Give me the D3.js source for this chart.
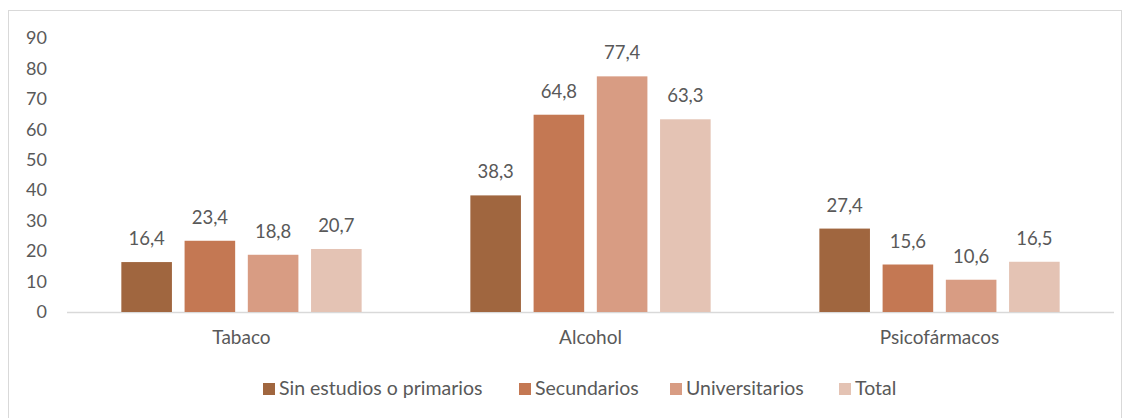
<!DOCTYPE html>
<html><head><meta charset="utf-8">
<script src="https://cdn.jsdelivr.net/npm/d3@7"></script>
<style>body{margin:0;background:#fff}svg{display:block}text{font-family:Lato,"Open Sans",sans-serif;fill:#595959}</style>
</head><body>
<svg id="c" width="1131" height="418"></svg>
<script>
const categories = ["Tabaco", "Alcohol", "Psicofármacos"];
const seriesNames = ["Sin estudios o primarios", "Secundarios", "Universitarios", "Total"];
const sinEstudios = [16.4, 38.3, 27.4];
const secundarios = [23.4, 64.8, 15.6];
const universitarios = [18.8, 77.4, 10.6];
const total = [20.7, 63.3, 16.5];
const colors = ["#A0663F", "#C47853", "#D89C83", "#E4C3B4"];
const yTicks = [0,10,20,30,40,50,60,70,80,90];

const series = [sinEstudios, secundarios, universitarios, total];
const svg = d3.select("#c");
svg.append("rect").attr("x",8.5).attr("y",10.5).attr("width",1113).attr("height",420)
  .attr("fill","#fff").attr("stroke","#D9D9D9");

const x0 = d3.scaleBand().domain(categories).range([67,1114]).paddingInner(0.3115).paddingOuter(0.1557);
const x1 = d3.scaleBand().domain(d3.range(4)).range([0, x0.bandwidth()]).paddingInner(0.2).paddingOuter(0);
const y = d3.scaleLinear().domain([0,90]).range([312,38]);

// y axis labels
const yAxis = d3.axisLeft(y).tickValues(yTicks).tickSize(0).tickPadding(0);
const ga = svg.append("g").attr("transform","translate(47,0)").call(yAxis);
ga.select(".domain").remove();
ga.selectAll("text").attr("font-size",18).attr("fill","#595959").style("font-family","Lato,sans-serif");

// x axis baseline
svg.append("line").attr("x1",67).attr("x2",1114).attr("y1",y(0)+0.5).attr("y2",y(0)+0.5).attr("stroke","#D9D9D9").attr("stroke-width",1.5);

const fmt = v => String(v.toFixed(1)).replace(".", ",");
categories.forEach((c, ci) => {
  const g = svg.append("g").attr("transform",`translate(${x0(c)},0)`);
  series.forEach((s, si) => {
    g.append("rect").attr("x",x1(si)).attr("y",y(s[ci])).attr("width",x1.bandwidth())
      .attr("height",y(0)-y(s[ci])).attr("fill",colors[si]);
    g.append("text").attr("x",x1(si)+x1.bandwidth()/2).attr("y",y(s[ci])-17)
      .attr("text-anchor","middle").attr("font-size",18.5).attr("fill","#404040").text(fmt(s[ci]));
  });
  svg.append("text").attr("x",x0(c)+x0.bandwidth()/2).attr("y",344).attr("text-anchor","middle")
    .attr("font-size",19).text(c);
});

// legend
const legX = [263, 519, 670, 839];
seriesNames.forEach((n,i)=>{
  svg.append("rect").attr("x",legX[i]).attr("y",383).attr("width",12).attr("height",12).attr("fill",colors[i]);
  svg.append("text").attr("x",legX[i]+16).attr("y",395).attr("font-size",19.5).text(n);
});
</script>
</body></html>
